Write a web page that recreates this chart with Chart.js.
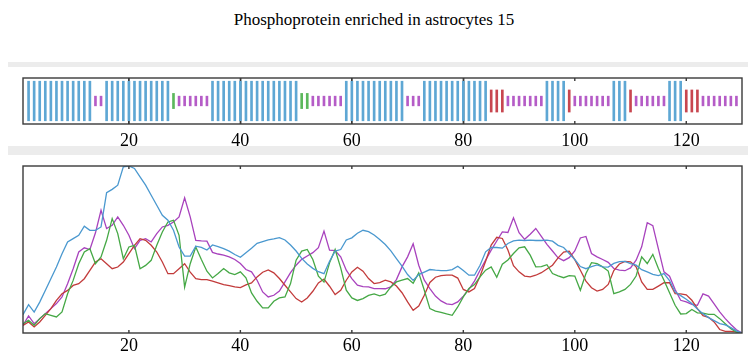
<!DOCTYPE html>
<html>
<head>
<meta charset="utf-8">
<script src="https://cdn.jsdelivr.net/npm/chart.js@4.4.1/dist/chart.umd.min.js"></script>
<style>
  body { margin: 0; background: #fff; }
  .wrap { position: relative; width: 748px; height: 356px; overflow: hidden; }
  .band { position: absolute; left: 8px; right: 0; background: #ececec; }
  .title {
    position: absolute; left: 0; top: 10px; width: 748px;
    text-align: center; font: 17px/20px 'Liberation Serif', 'Times New Roman', serif; color: #000;
  }
  canvas { position: absolute; left: 0; }
</style>
</head>
<body>
<div class="wrap">
  <div class="band" style="top:62px;height:5px"></div>
  <div class="band" style="top:146px;height:9px"></div>
  <div class="title" id="title"></div>
  <canvas id="structure" width="748" height="146" style="top:0"></canvas>
  <canvas id="profile" width="748" height="201" style="top:155px"></canvas>
</div>
<script>
const title = 'Phosphoprotein enriched in astrocytes 15';
const xTicks = [20, 40, 60, 80, 100, 120];

// one code per residue 1..130 (H helix, E strand, T turn, C coil, - none)
const secStruct =
  '-HHHHHHHHH' + 'HHHCCHHHHH' + 'HHHHHHHTCC' + 'CCCCHHHHHH' + 'HHHHHHHHHH' +
  'TTCCCCCCHH' + 'HHHHHHHHHC' + 'CCHHHHHHHH' + 'HHHHEEECCC' + 'CCCCHHHHEC' +
  'CCCCCCHHHE' + 'CCCCCCHHHE' + 'EECCCCCCC-';

const residues = secStruct.split('').map((c, i) => i + 1);

const blueLine = [
  11, 17, 12.5, 18.5, 25.5, 32.5, 39.5, 47.5, 54.5, 56.5,
  58.5, 64, 61.5, 61.5, 63.5, 84, 86, 88.5, 99.5, 100,
  98.5, 93.5, 88.5, 82.5, 76.5, 70.5, 67.5, 61.5, 51.5, 46,
  46, 52, 51.3, 49.7, 52.7, 51.7, 50.5, 49, 47, 45.3,
  48.1, 50.7, 53.7, 54.7, 55.7, 56.3, 57.1, 55.7, 52.7, 49.1,
  44.7, 41.3, 38.7, 36.7, 35.5, 43, 49, 50, 55.7, 57,
  59.7, 61.5, 60.7, 58.7, 56, 53, 49.2, 44.6, 40, 35,
  31.5, 35, 36.5, 38, 37.6, 37.4, 37.4, 38, 40, 37.4,
  34.6, 34.6, 40.6, 48.6, 51.2, 51.2, 50.8, 53.6, 55.2, 55.6,
  55.4, 55.6, 55.4, 55.4, 55.6, 55, 52.5, 51.2, 47.6, 44,
  39.8, 38.5, 39.8, 40.8, 39.6, 39.5, 41.7, 42.7, 42.9, 41.6,
  40.6, 37.9, 36.6, 35.1, 34.4, 35.6, 31.4, 24.6, 22.4, 20.2,
  17.6, 14.4, 11.6, 9.2, 7.4, 5.6, 4.8, 3.2, 1.3, 0
];
const purpleLine = [
  4.6, 10.2, 5.6, 8.6, 11.6, 14.6, 17.6, 21.6, 29.5, 38.5,
  48.5, 51, 50, 60, 73.5, 62.5, 64.5, 69.5, 64.5, 58.5,
  50.5, 55.5, 56.5, 54.5, 59.5, 63.5, 64.5, 66.5, 69.5, 81,
  69.5, 55.5, 55.2, 55, 48.3, 47.3, 46.6, 45.6, 44, 41.6,
  38, 36.6, 31.6, 24.6, 21.6, 22.6, 25.1, 30.6, 36.1, 40.6,
  44.1, 46.1, 48.1, 51.1, 61, 49.6, 49.3, 45.6, 37.6, 32.6,
  28.6, 27.8, 27.6, 26.6, 26.6, 26.5, 27.6, 32, 39.6, 45.6,
  53.4, 40.6, 31.6, 26.6, 22.1, 19.2, 17.4, 17, 18.6, 22.1,
  26.1, 31.1, 37.6, 43.6, 49.6, 55.1, 60.5, 60.2, 69, 60.1,
  56.1, 59.1, 62.6, 57.8, 53.1, 49.1, 45, 43.3, 45.1, 49.1,
  56.9, 57.8, 47.6, 45.6, 44, 42.3, 38.6, 37.6, 37.3, 39,
  43.6, 51.6, 66, 64.3, 50.4, 36.6, 34, 26, 19.6, 18.6,
  17.1, 16.6, 23.4, 22.1, 17.4, 12.6, 8.6, 5.1, 1.9, 0
];
const greenLine = [
  5.6, 7.6, 4.6, 8.6, 11.6, 10.6, 9.6, 12.6, 23.5, 31.5,
  41.5, 48.5, 50.5, 41.5, 45.5, 55.5, 68.5, 59.5, 44.5, 51.5,
  52.5, 38.5, 40.5, 43.5, 52.5, 60.5, 66.5, 67.5, 58.5, 27.5,
  41.5, 51.5, 44, 37, 33, 35.6, 38.6, 36, 35, 36.6,
  33, 24, 19, 15, 15, 19, 21, 21.6, 29.6, 43.6,
  49, 50, 44, 34, 30.5, 42, 50, 39, 25.6, 21,
  19.5, 20.6, 22.5, 23.4, 22.3, 23.3, 27.6, 30.6, 31.6, 32.6,
  29.8, 36, 25.6, 14.6, 13.1, 12.4, 11.4, 10.6, 15.6, 21.6,
  26.6, 29, 33.6, 37.6, 39.6, 33.4, 41.2, 43.7, 47.6, 51,
  51.6, 46.6, 39.6, 39.8, 40.9, 35.6, 34.2, 33.1, 34.4, 34.1,
  25.6, 35.6, 42.1, 41.6, 39.6, 37.1, 23.6, 24.6, 26.1, 29.1,
  34.1, 45.6, 41.6, 47.1, 38.6, 31.6, 24.1, 16.6, 11.4, 11.6,
  14.1, 12.1, 11.9, 11.2, 11.2, 8.6, 5.6, 2.6, 0.5, 0
];
const redLine = [
  4.6, 6.6, 3.6, 6.6, 10.6, 14.6, 19.5, 23.5, 25.5, 28.5,
  29.5, 32.5, 37.5, 42.5, 44.5, 41.5, 38.5, 39.5, 42.5, 47.5,
  52.5, 56.5, 55.5, 52.5, 48.5, 42.5, 35.5, 35.5, 38.5, 41.5,
  36.5, 32.5, 32, 32, 31, 30, 29, 28.4, 27.6, 27.2,
  28.8, 30, 33.6, 36.4, 37.8, 36, 32.6, 28.6, 24.6, 20.6,
  18.6, 21, 25, 30, 32.3, 28, 23, 25.6, 31.6, 36.6,
  39.4, 37, 32.6, 29.6, 30.2, 31.6, 30.6, 28.1, 24.1, 18.6,
  13.6, 16.1, 22.6, 30.3, 33.4, 34.3, 34.7, 34.6, 32.9, 26.1,
  24.6, 26.6, 34, 43, 52.6, 57.3, 56.6, 49.7, 40.3, 36.6,
  34.1, 33.6, 34.6, 36.1, 38.3, 40.6, 45, 48.5, 49, 43.9,
  37.6, 31.1, 27.1, 25.1, 26.1, 29.1, 37.4, 41.3, 42.9, 42.6,
  39.6, 30.6, 26.1, 26.1, 28.1, 30.1, 30.1, 23.6, 23.4, 22.9,
  19.6, 14.6, 10.4, 9.4, 6.6, 2.1, 1, 1, 0.7, 0
];

document.getElementById('title').textContent = title;

const serif = "'Liberation Serif', 'Times New Roman', serif";
const ssStyle = {
  H: { color: '#5ea7d4', half: 0.86 },
  E: { color: '#c8464f', half: 0.48 },
  T: { color: '#5cb85c', half: 0.33 },
  C: { color: '#b55cc7', half: 0.21 },
};

const framePlugin = {
  id: 'frame',
  afterDraw(chart, args, opts) {
    const { ctx, chartArea: a } = chart;
    const x = chart.scales.x;
    ctx.save();
    ctx.strokeStyle = opts.color;
    ctx.lineWidth = opts.width;
    ctx.strokeRect(a.left, a.top, a.right - a.left, a.bottom - a.top);
    x.ticks.forEach(t => {
      const px = x.getPixelForValue(t.value);
      ctx.beginPath();
      ctx.moveTo(px, a.top);
      ctx.lineTo(px, a.top + opts.tick);
      ctx.moveTo(px, a.bottom);
      ctx.lineTo(px, a.bottom - opts.tick);
      ctx.stroke();
    });
    ctx.restore();
  }
};

function xAxis(height, padding, grid) {
  return {
    type: 'linear',
    min: 1,
    max: 130,
    offset: false,
    border: { display: false },
    grid: Object.assign({ offset: false, drawTicks: false }, grid),
    ticks: { padding, color: '#000', font: { family: serif, size: 18 } },
    afterBuildTicks: s => { s.ticks = xTicks.map(v => ({ value: v })); },
    afterFit: s => { s.height = height; },
  };
}

const structureX = xAxis(22, 6, {
  lineWidth: 1.4,
  color: c => (c.tick && c.tick.value <= 80 ? '#3a3a3a' : 'rgba(0,0,0,0)'),
});
structureX.z = 1;

new Chart(document.getElementById('structure'), {
  type: 'bar',
  data: {
    datasets: Object.keys(ssStyle).map(code => ({
      label: code,
      data: residues
        .filter(r => secStruct[r - 1] === code)
        .map(r => ({ x: r, y: [-ssStyle[code].half, ssStyle[code].half] })),
      backgroundColor: ssStyle[code].color,
      borderWidth: 0,
      barThickness: 2,
      grouped: false,
    })),
  },
  options: {
    responsive: false,
    animation: false,
    layout: { padding: { left: 23, right: 6, top: 78, bottom: 0 } },
    scales: {
      x: structureX,
      y: { display: false, min: -1, max: 1 },
    },
    plugins: {
      legend: { display: false },
      tooltip: { enabled: false },
      frame: { color: '#3a3a3a', width: 1.4, tick: 3 },
    },
  },
  plugins: [framePlugin],
});

const series = [
  { data: blueLine, color: '#4a98cf' },
  { data: greenLine, color: '#45a845' },
  { data: redLine, color: '#c23b3b' },
  { data: purpleLine, color: '#a842bd' },
];

new Chart(document.getElementById('profile'), {
  type: 'line',
  data: {
    datasets: series.map(s => ({
      data: s.data.map((v, i) => ({ x: residues[i], y: v })),
      borderColor: s.color,
      borderWidth: 1.3,
      pointRadius: 0,
      tension: 0,
    })),
  },
  options: {
    responsive: false,
    animation: false,
    layout: { padding: { left: 23, right: 6, top: 11, bottom: 0 } },
    scales: {
      x: xAxis(23, 2, { display: false }),
      y: { display: false, min: 0, max: 100 },
    },
    plugins: {
      legend: { display: false },
      tooltip: { enabled: false },
      frame: { color: '#3a3a3a', width: 1.4, tick: 3 },
    },
  },
  plugins: [framePlugin],
});
</script>
</body>
</html>
